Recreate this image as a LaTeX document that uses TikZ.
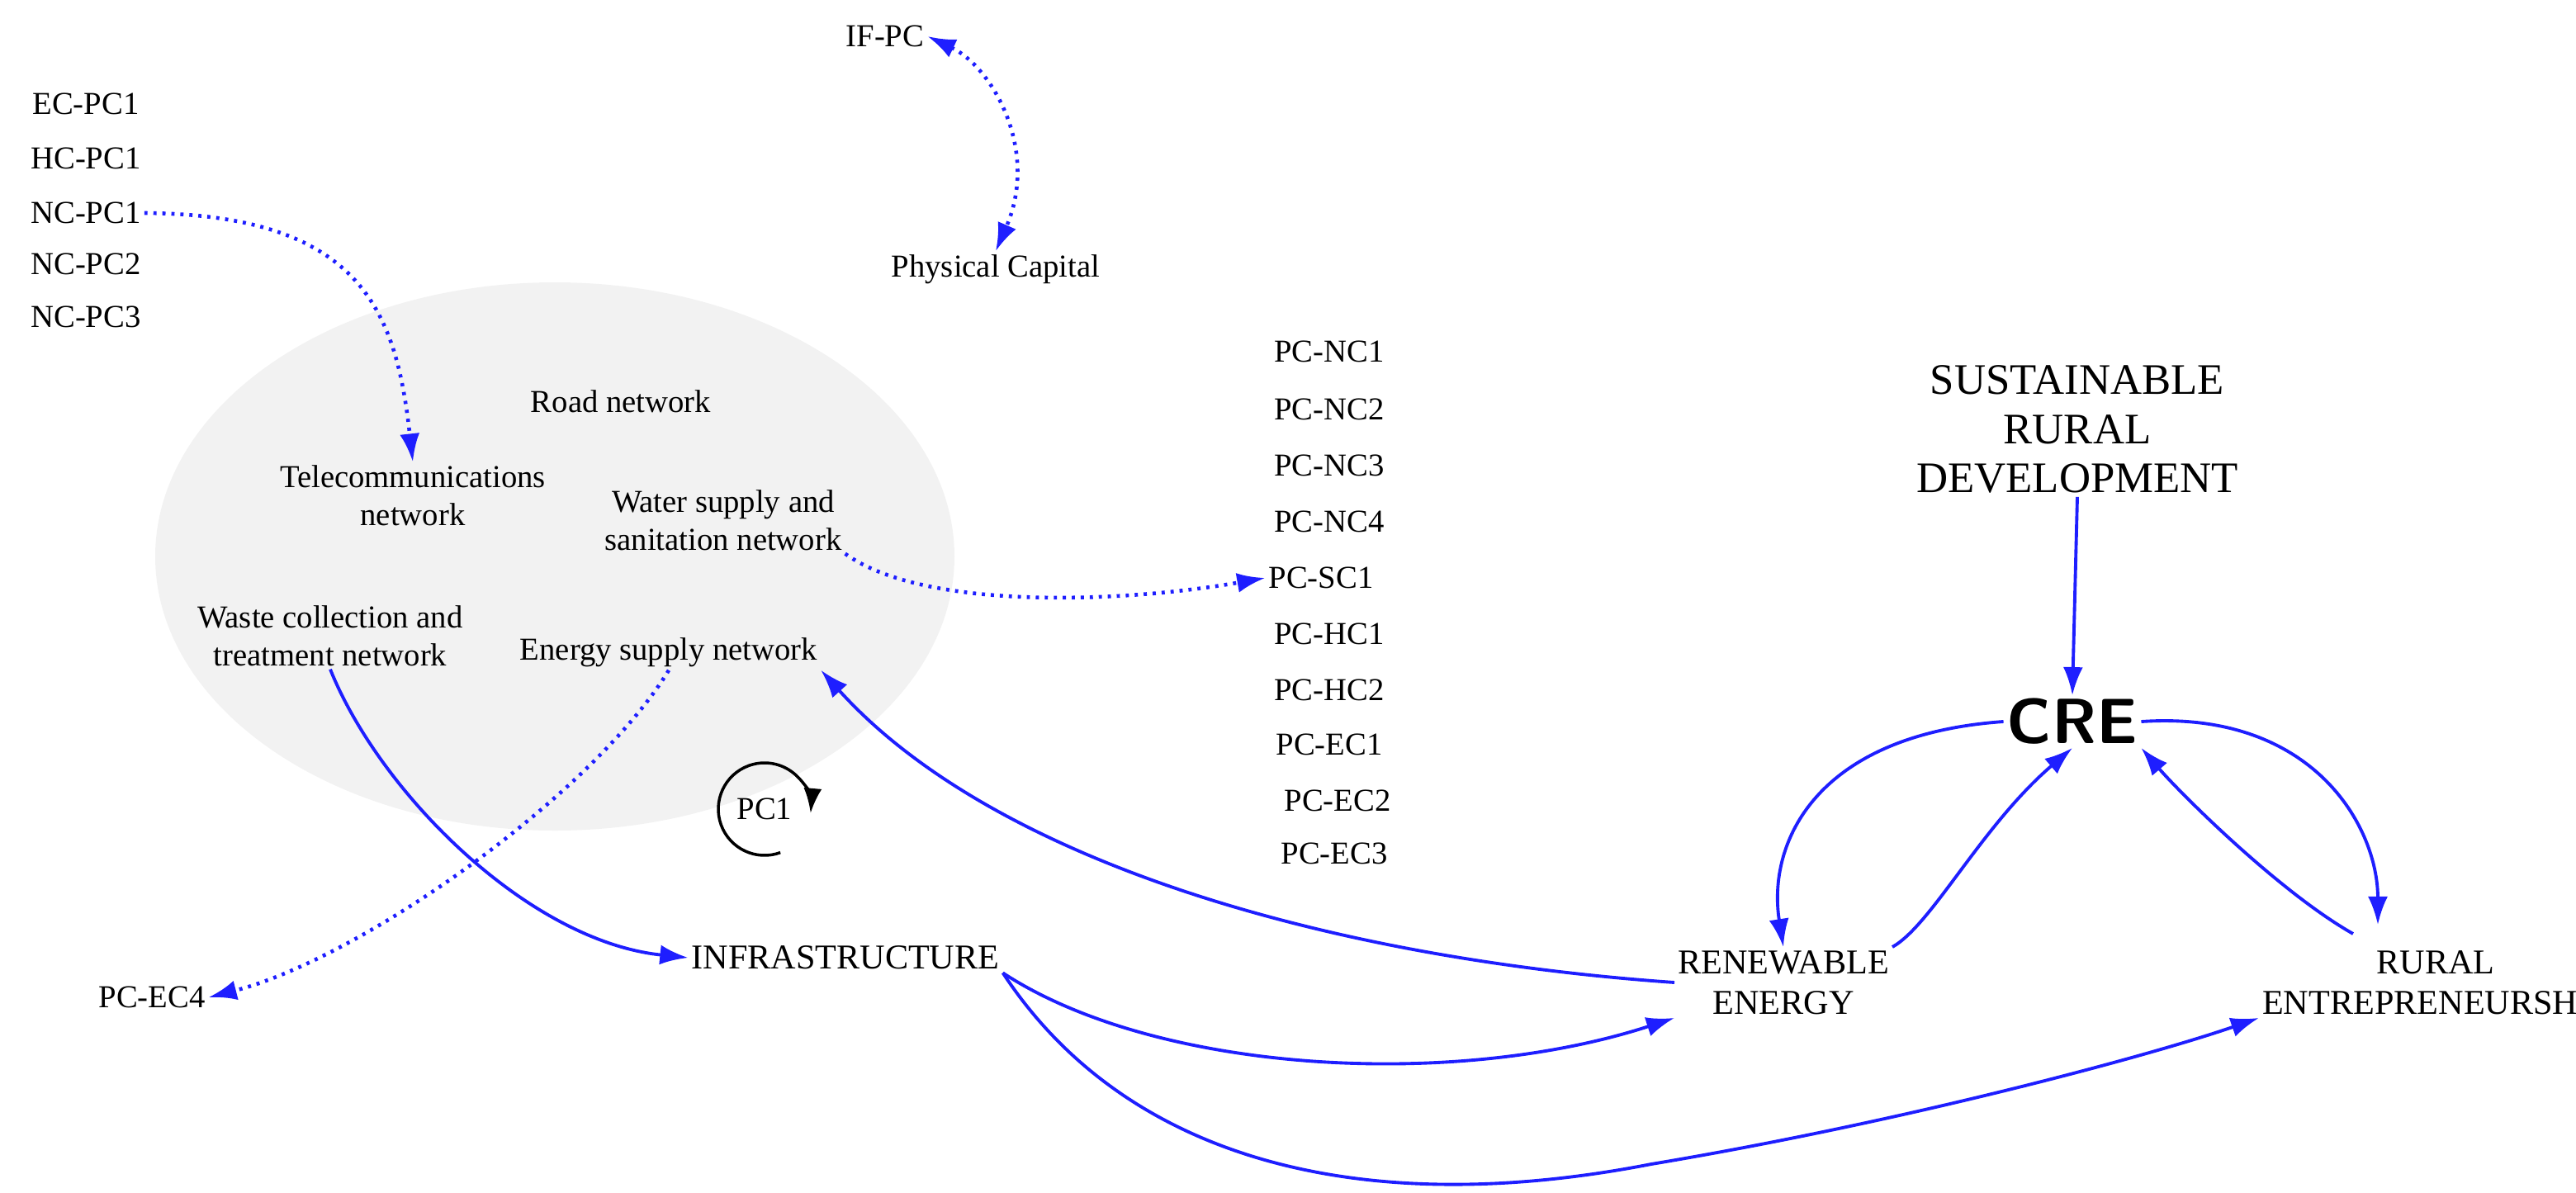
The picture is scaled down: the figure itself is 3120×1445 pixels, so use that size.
\documentclass[tikz,border=0pt]{standalone}
\usepackage{fontspec}
\setmainfont{Liberation Serif}
\usetikzlibrary{arrows.meta}
\definecolor{eb}{RGB}{30,30,255}
\definecolor{ell}{RGB}{242,242,242}
\begin{document}
\begin{tikzpicture}[x=0.01cm,y=-0.01cm,
 lbl/.style={font=\fontsize{11}{13}\selectfont,align=center,inner sep=1pt},
 big/.style={font=\fontsize{15}{17}\selectfont,align=center,inner sep=1pt},
 ar/.style={eb,line width=1.1pt,-{Latex[length=0.34cm,width=0.24cm]}},
 dar/.style={ar,dotted,line width=1.3pt}]
\useasboundingbox (0,0) rectangle (3120,1445);
\begin{scope}[scale=2]
\fill[ell] (336,337) ellipse [x radius=242, y radius=166];
\node[lbl] (ifpc) at (536,22) {IF-PC};
\node[lbl] (ec1) at (52,63) {EC-PC1};
\node[lbl] (hc1) at (52,96) {HC-PC1};
\node[lbl] (nc1) at (52,129) {NC-PC1};
\node[lbl] (nc2) at (52,160) {NC-PC2};
\node[lbl] (nc3) at (52,192) {NC-PC3};
\node[lbl] (phys) at (603,163) {Physical Capital};
\node[lbl] (road) at (376,243) {Road network};
\node[lbl] (tele) at (250,300) {Telecommunications\\network};
\node[lbl] (water) at (438,315) {Water supply and\\sanitation network};
\node[lbl] (waste) at (200,385) {Waste collection and\\treatment network};
\node[lbl] (energy) at (405,395) {Energy supply network};
\foreach \n/\t/\x/\y in {a/PC-NC1/805/213,b/PC-NC2/805/248,c/PC-NC3/805/282,d/PC-NC4/805/316,e/PC-SC1/800/350,f/PC-HC1/805/384,g/PC-HC2/805/418,h/PC-EC1/805/451,i/PC-EC2/810/485,j/PC-EC3/808/517}
  \node[lbl] (\n) at (\x,\y) {\t};
\node[big] (srd) at (1258,260) {SUSTAINABLE\\RURAL\\DEVELOPMENT};
\node[font=\fontsize{22}{24}\selectfont\sffamily\bfseries,inner sep=1pt] (cre) at (1255,437) {CRE};
\node[lbl,font=\fontsize{12}{14}\selectfont] (ren) at (1080,595) {RENEWABLE\\ENERGY};
\node[lbl,font=\fontsize{12}{14}\selectfont] (rur) at (1475,595) {RURAL\\ENTREPRENEURSHIP};
\node[lbl,font=\fontsize{12}{14}\selectfont] (inf) at (512,580) {INFRASTRUCTURE};
\node[lbl] (pcec4) at (92,604) {PC-EC4};
\node[lbl] (pc1) at (463,490) {PC1};
\draw[line width=1pt,-{Latex[length=0.3cm,width=0.22cm]}] (pc1.center) ++(70:28) arc[start angle=70,end angle=365,radius=28];
\draw[dar,{Latex[length=0.34cm,width=0.24cm]}-{Latex[length=0.34cm,width=0.24cm]}] (ifpc.east) .. controls (600,40) and (630,90) .. (phys.north);
\draw[dar] (nc1.east) .. controls (220,130) and (240,190) .. (tele.north);
\draw[dar] (water.south east) .. controls (560,370) and (680,365) .. (e.west);
\draw[dar] (energy.south) .. controls (360,480) and (220,580) .. (pcec4.east);
\draw[ar] (waste.south) .. controls (230,480) and (320,570) .. (inf.west);
\draw[ar] (ren.west) .. controls (800,580) and (600,520) .. (energy.south east);
\draw[ar] (inf.south east) .. controls (700,650) and (880,660) .. (ren.south west);
\draw[ar] (inf.south east) .. controls (680,700) and (820,740) .. (1000,705) .. controls (1150,680) and (1300,640) .. (rur.south west);
\draw[ar] (srd.south) -- (cre.north);
\draw[ar] (cre.west) .. controls (1100,445) and (1070,510) .. (ren.north);
\draw[ar] (ren.north east) .. controls (1170,560) and (1200,500) .. (cre.south);
\draw[ar] (rur.north) ++(-50,-8) .. controls (1380,540) and (1320,480) .. (cre.south east);
\draw[ar] (cre.east) .. controls (1400,430) and (1440,500) .. (1440,560);
\end{scope}
\end{tikzpicture}
\end{document}
